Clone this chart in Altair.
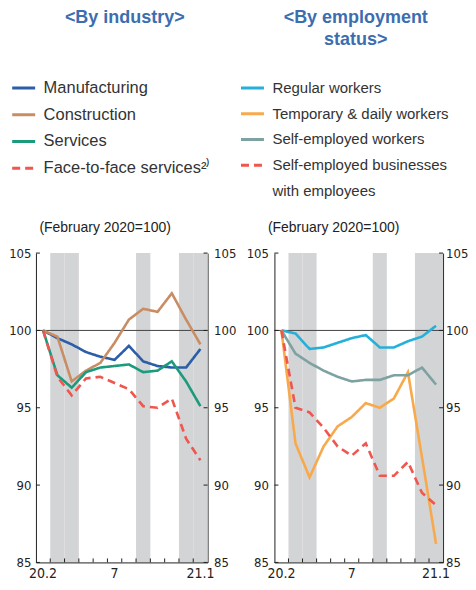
import altair as alt
import pandas as pd

months = ["20.2", "20.3", "20.4", "20.5", "20.6", "20.7", "20.8", "20.9", "20.10", "20.11", "20.12", "21.1"]
shaded = ["20.3", "20.4", "20.9", "20.12", "21.1"]
tick_months = months[1:]
y_ticks = [85, 90, 95, 100, 105]

ind_names = ["Manufacturing", "Construction", "Services", "Face-to-face services²⁾"]
manufacturing = [100, 99.5, 99.1, 98.6, 98.3, 98.1, 99.0, 98.0, 97.7, 97.6, 97.6, 98.8]
construction = [100, 99.6, 96.7, 97.4, 97.9, 99.2, 100.7, 101.4, 101.2, 102.4, 100.7, 99.1]
services = [100, 97.1, 96.3, 97.3, 97.6, 97.7, 97.8, 97.3, 97.4, 98.0, 96.7, 95.1]
face = [100, 97.0, 95.8, 96.9, 97.0, 96.6, 96.2, 95.1, 95.0, 95.6, 93.0, 91.6]

# last legend entry wraps onto a second line ("with employees")
emp_names = ["Regular workers", "Temporary & daily workers", "Self-employed workers",
             "Self-employed businesses"]
emp_extra = ["with employees"]
regular = [100, 99.8, 98.8, 98.9, 99.2, 99.5, 99.7, 98.9, 98.9, 99.3, 99.6, 100.3]
temporary = [100, 92.7, 90.5, 92.5, 93.8, 94.4, 95.3, 95.0, 95.6, 97.3, 91.8, 86.2]
self_emp = [100, 98.5, 97.9, 97.4, 97.0, 96.7, 96.8, 96.8, 97.1, 97.1, 97.6, 96.5]
self_biz = [100, 95.0, 94.7, 93.7, 92.5, 91.9, 92.7, 90.6, 90.6, 91.5, 89.5, 88.7]

ind_colors = ["#2c5ea8", "#c98d64", "#1b9b7b", "#f0554e"]
emp_colors = ["#25b0da", "#f8a94c", "#7ea2a2", "#f0554e", "rgba(0,0,0,0)"]
dashes = [[1, 0], [1, 0], [1, 0], [8, 5], [1, 0]]

NARROW = "DejaVu Sans Condensed"
SANS = "Liberation Sans, Arial, Helvetica, sans-serif"
H = 310


def panel(title, names, extra, series, colors, W, legend_x, legend_y, legend_font,
          title_offset, title_dx, note_x, left_pad, right_pad):
    rows = []
    for n, s in zip(names, series):
        for m, v in zip(months, s):
            rows.append({"month": m, "value": v, "series": n})
    df = pd.DataFrame(rows)
    domain = names + extra

    label_expr = ("datum.value == '20.2' ? '20.2' : datum.value == '20.7' ? '7' : "
                  "datum.value == '21.1' ? '21.1' : ''")
    xscale = alt.Scale(domain=months, paddingInner=0, paddingOuter=0)
    xaxis = alt.Axis(title=None, ticks=False, tickSize=0, labelExpr=label_expr, labelAngle=0,
                     domainColor="#222", labelFont=NARROW, labelFontSize=14,
                     labelColor="#222", labelPadding=4, grid=False)
    yscale = alt.Scale(domain=[85, 105], nice=False, zero=False)

    x_enc = alt.X("month:O", scale=xscale, axis=xaxis, sort=months)

    shade = alt.Chart(pd.DataFrame({"month": shaded})).mark_rect(color="#d3d4d6").encode(
        x=x_enc, y=alt.value(0), y2=alt.value(H))

    leg = alt.Legend(orient="none", legendX=legend_x, legendY=legend_y, title=None,
                     symbolType="stroke", symbolSize=529, symbolStrokeWidth=3,
                     labelFont=SANS, labelFontSize=legend_font, labelColor="#333",
                     labelOffset=7, rowPadding=4.8, padding=0, labelLimit=400)

    lines = alt.Chart(df).mark_line(strokeWidth=2.6).encode(
        x=x_enc,
        y=alt.Y("value:Q", scale=yscale,
                axis=alt.Axis(orient="left", values=y_ticks, ticks=False, tickSize=0,
                              grid=False, domainColor="#222", labelFont=NARROW,
                              labelFontSize=13, labelColor="#222", labelPadding=left_pad,
                              title="(February 2020=100)", titleAngle=0, titleX=note_x,
                              titleY=-26, titleAlign="left", titleBaseline="middle",
                              titleFont=SANS, titleFontSize=14, titleFontWeight="normal",
                              titleColor="#222")),
        color=alt.Color("series:N", scale=alt.Scale(domain=domain, range=colors), legend=leg),
        strokeDash=alt.StrokeDash("series:N", scale=alt.Scale(domain=domain, range=dashes),
                                  legend=leg),
        order=alt.Order("order:Q"),
    ).transform_calculate(order="indexof(%s, datum.series)" % str(names))

    base = alt.Chart(pd.DataFrame({"v": [100]})).mark_rule(color="#444", strokeWidth=1).encode(
        y=alt.Y("v:Q", scale=yscale,
                axis=alt.Axis(orient="right", values=y_ticks, ticks=False, tickSize=0,
                              grid=False, domainColor="#222", labelFont=NARROW,
                              labelFontSize=13, labelColor="#222", labelPadding=right_pad,
                              title=None)))

    ytick_df = pd.DataFrame({"v": y_ticks})
    yt_left = alt.Chart(ytick_df).mark_rule(color="#222").encode(
        y=alt.Y("v:Q", scale=yscale, axis=None), x=alt.value(0), x2=alt.value(4))
    yt_right = alt.Chart(ytick_df).mark_rule(color="#222").encode(
        y=alt.Y("v:Q", scale=yscale, axis=None), x=alt.value(W - 4), x2=alt.value(W))
    xt = alt.Chart(pd.DataFrame({"month": tick_months})).mark_rule(color="#222").encode(
        x=alt.X("month:O", scale=xscale, axis=xaxis, sort=months, bandPosition=0),
        y=alt.value(H - 4), y2=alt.value(H))

    return alt.layer(shade, base, lines, yt_left, yt_right, xt).resolve_scale(
        y="independent").properties(
        width=W, height=H,
        title=alt.TitleParams(text=title, font=SANS, fontSize=18, fontWeight="bold",
                              color="#3c6db0", anchor="middle", offset=title_offset,
                              dx=title_dx, lineHeight=22))


left = panel(["<By industry>"], ind_names, [], [manufacturing, construction, services, face],
             ind_colors, 172, -25.3, -178.5, 16.5, 48, 3, 3, 5, 6)
right = panel(["<By employment", "status>"], emp_names, emp_extra,
              [regular, temporary, self_emp, self_biz],
              emp_colors, 169, -35, -178.5, 15, 26, -3, -7, 6, 2.5)

chart = alt.concat(left, right, columns=2, spacing=3, align="none").resolve_scale(
    color="independent", strokeDash="independent").properties(
    padding={"top": 0, "left": 0, "right": 0, "bottom": 0}).configure_view(stroke=None)

chart.save("out.html", embed_options={"renderer": "svg", "actions": False})
